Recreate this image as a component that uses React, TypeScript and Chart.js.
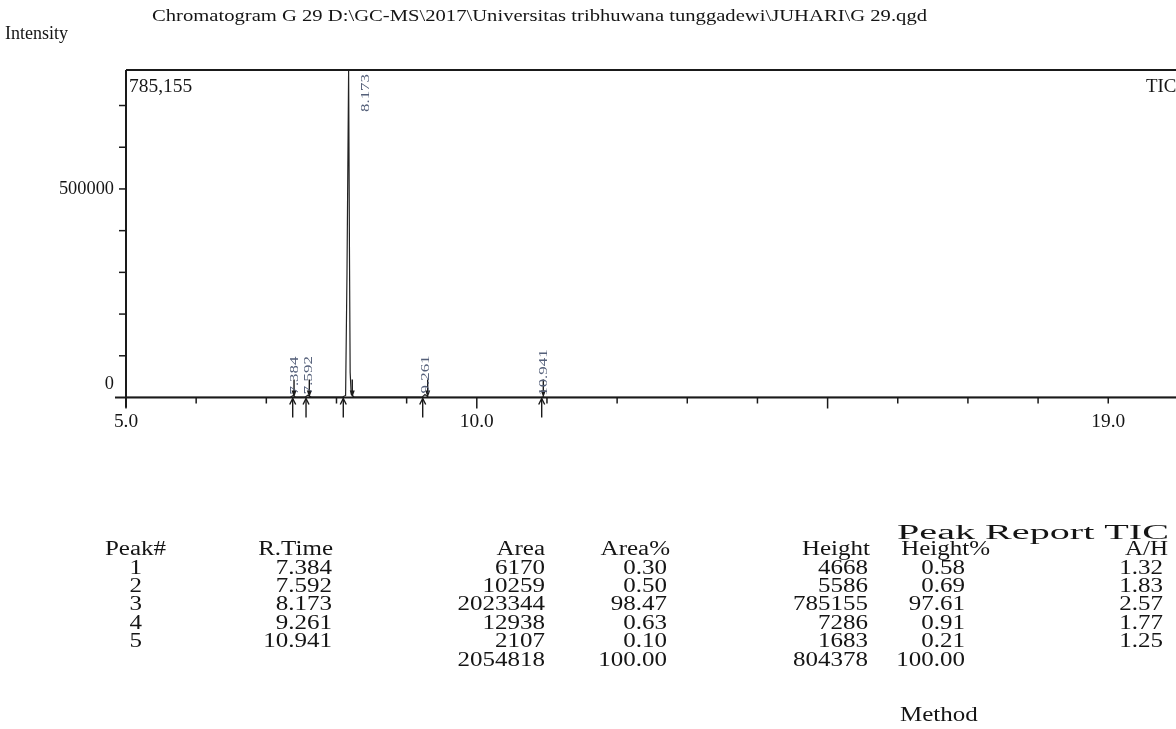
import React, { useEffect, useRef } from 'react';
import { Chart, registerables } from 'chart.js';

Chart.register(...registerables);

const titleText = 'Chromatogram G 29 D:\\GC-MS\\2017\\Universitas tribhuwana tunggadewi\\JUHARI\\G 29.qgd';
const yAxisTitle = 'Intensity';
const maxIntensityLabel = '785,155';
const traceName = 'TIC';
const reportTitle = 'Peak Report TIC';
const methodLabel = 'Method';

// chromatogram trace (retention time in min, intensity)
const traceTimes = [5.0, 7.0, 7.34, 7.384, 7.42, 7.55, 7.592, 7.64, 8.08, 8.13, 8.15, 8.173, 8.185, 8.195, 8.21, 8.25, 9.22, 9.261, 9.31, 10.92, 10.941, 10.97, 20.0];
const traceIntensities = [300, 400, 500, 4668, 800, 700, 5586, 900, 800, 5000, 300000, 785155, 350000, 60000, 8000, 1500, 700, 7286, 600, 400, 1683, 400, 300];

// peak table
const peakNumbers = ['1', '2', '3', '4', '5'];
const retentionTimes = [7.384, 7.592, 8.173, 9.261, 10.941];
const retentionTimeLabels = ['7.384', '7.592', '8.173', '9.261', '10.941'];
const areas = ['6170', '10259', '2023344', '12938', '2107'];
const areaPercents = ['0.30', '0.50', '98.47', '0.63', '0.10'];
const heights = [4668, 5586, 785155, 7286, 1683];
const heightPercents = ['0.58', '0.69', '97.61', '0.91', '0.21'];
const ahRatios = ['1.32', '1.83', '2.57', '1.77', '1.25'];
const totalArea = '2054818';
const totalAreaPercent = '100.00';
const totalHeight = '804378';
const totalHeightPercent = '100.00';
const peakStarts = [7.376, 7.566, 8.097, 9.229, 10.925];
const peakEnds = [7.395, 7.613, 8.225, 9.30, 10.948];

// axes
const xMin = 5;
const xMax = 20;
const yMax = 785155;
const xTickValues = [5, 6, 7, 8, 9, 10, 11, 12, 13, 14, 15, 16, 17, 18, 19];
const xMajorTickValues = [5, 10, 15];
const xLabelValues = [5, 10, 19];
const xLabels = ['5.0', '10.0', '19.0'];
const yTickValues = [0, 100000, 200000, 300000, 400000, 500000, 600000, 700000];
const yLabelValues = [0, 500000];
const yLabels = ['0', '500000'];

const FONT = '"Liberation Serif", "Times New Roman", serif';

function drawText(ctx: CanvasRenderingContext2D, s: string, x: number, y: number, size: number, opts: any = {}) {
  const { align = 'left', sx = 1, color = '#151515', rotate = 0, fitWidth = 0 } = opts;
  ctx.save();
  ctx.font = `${size}px ${FONT}`;
  let scale = sx;
  if (fitWidth) scale = fitWidth / ctx.measureText(s).width;
  ctx.translate(x, y);
  if (rotate) ctx.rotate(rotate);
  ctx.scale(scale, 1);
  ctx.textAlign = align;
  ctx.textBaseline = 'middle';
  ctx.fillStyle = color;
  ctx.fillText(s, 0, 0);
  ctx.restore();
}

const decorPlugin = {
  id: 'decor',
  afterDatasetsDraw(chart: any) {
    const ctx: CanvasRenderingContext2D = chart.ctx;
    const a = chart.chartArea;
    const xs = chart.scales.x;
    const ys = chart.scales.y;
    const W = chart.width;
    const base = ys.getPixelForValue(0);

    ctx.save();
    ctx.strokeStyle = '#1a1a1a';
    ctx.lineWidth = 2;
    ctx.beginPath();
    ctx.moveTo(a.left, a.top);
    ctx.lineTo(W, a.top);
    ctx.stroke();
    ctx.beginPath();
    ctx.moveTo(a.left, a.top);
    ctx.lineTo(a.left, base + 10);
    ctx.stroke();
    ctx.beginPath();
    ctx.moveTo(a.left - 11, base);
    ctx.lineTo(W, base);
    ctx.stroke();

    ctx.lineWidth = 1.5;
    yTickValues.forEach((v) => {
      if (v === 0) return;
      const py = ys.getPixelForValue(v);
      ctx.beginPath();
      ctx.moveTo(a.left - 7, py);
      ctx.lineTo(a.left, py);
      ctx.stroke();
    });
    xTickValues.forEach((v) => {
      const px = xs.getPixelForValue(v);
      const len = xMajorTickValues.includes(v) ? 11 : 6;
      ctx.beginPath();
      ctx.moveTo(px, base);
      ctx.lineTo(px, base + len);
      ctx.stroke();
    });

    ctx.lineWidth = 1.4;
    ctx.fillStyle = '#1a1a1a';
    peakStarts.forEach((t) => {
      const px = xs.getPixelForValue(t);
      ctx.beginPath();
      ctx.moveTo(px, base + 20);
      ctx.lineTo(px, base + 1);
      ctx.stroke();
      ctx.beginPath();
      ctx.moveTo(px - 3, base + 7);
      ctx.lineTo(px, base + 1);
      ctx.lineTo(px + 3, base + 7);
      ctx.stroke();
    });
    peakEnds.forEach((t) => {
      const px = xs.getPixelForValue(t);
      ctx.beginPath();
      ctx.moveTo(px, base - 18);
      ctx.lineTo(px, base - 5);
      ctx.stroke();
      ctx.beginPath();
      ctx.moveTo(px - 2.5, base - 7);
      ctx.lineTo(px + 2.5, base - 7);
      ctx.lineTo(px, base);
      ctx.closePath();
      ctx.fill();
    });
    ctx.restore();

    retentionTimes.forEach((t, i) => {
      const px = xs.getPixelForValue(t);
      const py = ys.getPixelForValue(heights[i]);
      if (py < a.top + 60) {
        drawText(ctx, retentionTimeLabels[i], px + 17, a.top + 4, 13, { align: 'right', sx: 1.3, rotate: -Math.PI / 2, color: '#55607a' });
      } else {
        drawText(ctx, retentionTimeLabels[i], px + 1, py - 1, 13, { align: 'left', sx: 1.3, rotate: -Math.PI / 2, color: '#55607a' });
      }
    });

    yLabelValues.forEach((v, i) => {
      const py = Math.min(ys.getPixelForValue(v), base - 13);
      drawText(ctx, yLabels[i], a.left - 12, py, 18, { align: 'right', sx: 1.02 });
    });
    xLabelValues.forEach((v, i) => {
      drawText(ctx, xLabels[i], xs.getPixelForValue(v), base + 25, 19, { align: 'center', sx: 1.02 });
    });
    drawText(ctx, maxIntensityLabel, a.left + 3, a.top + 17, 18, { sx: 1.08 });
    drawText(ctx, traceName, 1146, a.top + 17, 18, { sx: 1.05 });
    drawText(ctx, yAxisTitle, 5, 34, 18, { fitWidth: 63 });
    drawText(ctx, titleText, 152, 17, 17, { fitWidth: 775 });

    // peak report table
    const fs = 20;
    const sx = 1.25;
    const hdrY = 550;
    const rowH = 18.4;
    drawText(ctx, reportTitle, 897, hdrY - 16, fs, { fitWidth: 272 });
    const cols = [
      { h: 'Peak#', hr: 166, vr: 142, vals: peakNumbers, tot: '' },
      { h: 'R.Time', hr: 333, vr: 332, vals: retentionTimeLabels, tot: '' },
      { h: 'Area', hr: 545, vr: 545, vals: areas, tot: totalArea },
      { h: 'Area%', hr: 670, vr: 667, vals: areaPercents, tot: totalAreaPercent },
      { h: 'Height', hr: 870, vr: 868, vals: heights.map(String), tot: totalHeight },
      { h: 'Height%', hr: 990, vr: 965, vals: heightPercents, tot: totalHeightPercent },
      { h: 'A/H', hr: 1168, vr: 1163, vals: ahRatios, tot: '' },
    ];
    cols.forEach((c) => {
      drawText(ctx, c.h, c.hr, hdrY, fs, { align: 'right', sx });
      c.vals.forEach((v, i) => drawText(ctx, v, c.vr, hdrY + rowH * (i + 1), fs, { align: 'right', sx }));
      if (c.tot) drawText(ctx, c.tot, c.vr, hdrY + rowH * 6, fs, { align: 'right', sx });
    });
    drawText(ctx, methodLabel, 900, 716, fs, { sx });
  },
};

export default function App() {
  const ref = useRef<HTMLCanvasElement>(null);
  useEffect(() => {
    const canvas = ref.current;
    if (!canvas) return;
    const chart = new Chart(canvas, {
      type: 'line',
      data: {
        datasets: [
          {
            data: traceTimes.map((t, i) => ({ x: t, y: traceIntensities[i] })),
            borderColor: '#222',
            borderWidth: 1.2,
            pointRadius: 0,
            tension: 0,
            fill: false,
          },
        ],
      },
      options: {
        responsive: false,
        animation: false,
        devicePixelRatio: 1,
        layout: { padding: { left: 126, top: 70, right: 21.6, bottom: 331.5 } },
        scales: {
          x: { type: 'linear', min: xMin, max: xMax, display: false },
          y: { type: 'linear', min: 0, max: yMax, display: false },
        },
        plugins: { legend: { display: false }, tooltip: { enabled: false }, title: { display: false } },
        events: [],
      },
      plugins: [decorPlugin],
    });
    return () => chart.destroy();
  }, []);
  return (
    <div style={{ position: 'fixed', left: 0, top: 0, width: 1176, height: 729, overflow: 'hidden', background: '#fff' }}>
      <canvas ref={ref} width={1200} height={729} style={{ display: 'block', width: 1200, height: 729 }} />
    </div>
  );
}
